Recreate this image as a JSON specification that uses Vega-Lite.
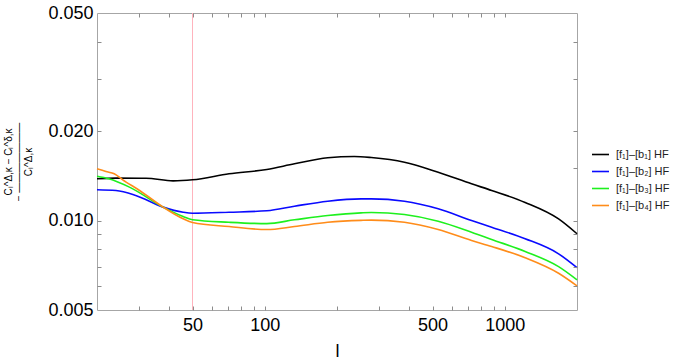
{
  "$schema": "https://vega.github.io/schema/vega-lite/v6.json",
  "width": 480,
  "height": 297,
  "autosize": {"type": "none"},
  "padding": {"left": 97, "top": 13, "right": 97, "bottom": 54},
  "background": "white",
  "config": {
    "view": {"stroke": "#a6a6a6", "strokeWidth": 1},
    "font": "Liberation Sans",
    "axis": {"grid": false, "labelFont": "Liberation Sans", "titleFont": "Liberation Sans", "labelColor": "#000", "titleColor": "#000", "tickColor": "#8c8c8c", "tickWidth": 1, "domain": false}
  },
  "datasets": {
    "curves": [
      {"l": 20, "r": 0.01383, "s": "[f₁]–[b₁] HF"},
      {"l": 24, "r": 0.01390, "s": "[f₁]–[b₁] HF"},
      {"l": 32, "r": 0.01389, "s": "[f₁]–[b₁] HF"},
      {"l": 41.5, "r": 0.01361, "s": "[f₁]–[b₁] HF"},
      {"l": 50, "r": 0.01372, "s": "[f₁]–[b₁] HF"},
      {"l": 71, "r": 0.01437, "s": "[f₁]–[b₁] HF"},
      {"l": 102, "r": 0.01486, "s": "[f₁]–[b₁] HF"},
      {"l": 133, "r": 0.01553, "s": "[f₁]–[b₁] HF"},
      {"l": 183, "r": 0.01627, "s": "[f₁]–[b₁] HF"},
      {"l": 236, "r": 0.01644, "s": "[f₁]–[b₁] HF"},
      {"l": 278, "r": 0.01630, "s": "[f₁]–[b₁] HF"},
      {"l": 382, "r": 0.01572, "s": "[f₁]–[b₁] HF"},
      {"l": 528, "r": 0.01455, "s": "[f₁]–[b₁] HF"},
      {"l": 727, "r": 0.01330, "s": "[f₁]–[b₁] HF"},
      {"l": 882, "r": 0.01263, "s": "[f₁]–[b₁] HF"},
      {"l": 1216, "r": 0.01151, "s": "[f₁]–[b₁] HF"},
      {"l": 1676, "r": 0.01013, "s": "[f₁]–[b₁] HF"},
      {"l": 2000, "r": 0.00903, "s": "[f₁]–[b₁] HF"},

      {"l": 20, "r": 0.01270, "s": "[f₁]–[b₂] HF"},
      {"l": 24, "r": 0.01263, "s": "[f₁]–[b₂] HF"},
      {"l": 29, "r": 0.01215, "s": "[f₁]–[b₂] HF"},
      {"l": 37.7, "r": 0.01110, "s": "[f₁]–[b₂] HF"},
      {"l": 45.7, "r": 0.01067, "s": "[f₁]–[b₂] HF"},
      {"l": 50, "r": 0.01059, "s": "[f₁]–[b₂] HF"},
      {"l": 71, "r": 0.01067, "s": "[f₁]–[b₂] HF"},
      {"l": 102, "r": 0.01079, "s": "[f₁]–[b₂] HF"},
      {"l": 133, "r": 0.01118, "s": "[f₁]–[b₂] HF"},
      {"l": 183, "r": 0.01162, "s": "[f₁]–[b₂] HF"},
      {"l": 252, "r": 0.01183, "s": "[f₁]–[b₂] HF"},
      {"l": 278, "r": 0.01183, "s": "[f₁]–[b₂] HF"},
      {"l": 382, "r": 0.01162, "s": "[f₁]–[b₂] HF"},
      {"l": 528, "r": 0.01096, "s": "[f₁]–[b₂] HF"},
      {"l": 727, "r": 0.01001, "s": "[f₁]–[b₂] HF"},
      {"l": 882, "r": 0.00950, "s": "[f₁]–[b₂] HF"},
      {"l": 1216, "r": 0.00869, "s": "[f₁]–[b₂] HF"},
      {"l": 1676, "r": 0.00773, "s": "[f₁]–[b₂] HF"},
      {"l": 2000, "r": 0.00694, "s": "[f₁]–[b₂] HF"},

      {"l": 20, "r": 0.01410, "s": "[f₁]–[b₃] HF"},
      {"l": 22.4, "r": 0.01383, "s": "[f₁]–[b₃] HF"},
      {"l": 27.3, "r": 0.01296, "s": "[f₁]–[b₃] HF"},
      {"l": 37.7, "r": 0.01110, "s": "[f₁]–[b₃] HF"},
      {"l": 45.7, "r": 0.01032, "s": "[f₁]–[b₃] HF"},
      {"l": 50, "r": 0.01006, "s": "[f₁]–[b₃] HF"},
      {"l": 71, "r": 0.00987, "s": "[f₁]–[b₃] HF"},
      {"l": 102, "r": 0.00977, "s": "[f₁]–[b₃] HF"},
      {"l": 133, "r": 0.01006, "s": "[f₁]–[b₃] HF"},
      {"l": 183, "r": 0.01040, "s": "[f₁]–[b₃] HF"},
      {"l": 252, "r": 0.01062, "s": "[f₁]–[b₃] HF"},
      {"l": 278, "r": 0.01065, "s": "[f₁]–[b₃] HF"},
      {"l": 382, "r": 0.01048, "s": "[f₁]–[b₃] HF"},
      {"l": 528, "r": 0.00995, "s": "[f₁]–[b₃] HF"},
      {"l": 727, "r": 0.00914, "s": "[f₁]–[b₃] HF"},
      {"l": 882, "r": 0.00864, "s": "[f₁]–[b₃] HF"},
      {"l": 1216, "r": 0.00787, "s": "[f₁]–[b₃] HF"},
      {"l": 1676, "r": 0.00700, "s": "[f₁]–[b₃] HF"},
      {"l": 2000, "r": 0.00632, "s": "[f₁]–[b₃] HF"},

      {"l": 20, "r": 0.01494, "s": "[f₁]–[b₄] HF"},
      {"l": 21.8, "r": 0.01463, "s": "[f₁]–[b₄] HF"},
      {"l": 23.6, "r": 0.01437, "s": "[f₁]–[b₄] HF"},
      {"l": 25.6, "r": 0.01372, "s": "[f₁]–[b₄] HF"},
      {"l": 30.1, "r": 0.01263, "s": "[f₁]–[b₄] HF"},
      {"l": 37.7, "r": 0.01110, "s": "[f₁]–[b₄] HF"},
      {"l": 45.7, "r": 0.01014, "s": "[f₁]–[b₄] HF"},
      {"l": 50, "r": 0.00985, "s": "[f₁]–[b₄] HF"},
      {"l": 71, "r": 0.00955, "s": "[f₁]–[b₄] HF"},
      {"l": 102, "r": 0.00933, "s": "[f₁]–[b₄] HF"},
      {"l": 133, "r": 0.00955, "s": "[f₁]–[b₄] HF"},
      {"l": 183, "r": 0.00987, "s": "[f₁]–[b₄] HF"},
      {"l": 252, "r": 0.01002, "s": "[f₁]–[b₄] HF"},
      {"l": 278, "r": 0.01004, "s": "[f₁]–[b₄] HF"},
      {"l": 382, "r": 0.00987, "s": "[f₁]–[b₄] HF"},
      {"l": 528, "r": 0.00933, "s": "[f₁]–[b₄] HF"},
      {"l": 727, "r": 0.00857, "s": "[f₁]–[b₄] HF"},
      {"l": 882, "r": 0.00818, "s": "[f₁]–[b₄] HF"},
      {"l": 1216, "r": 0.00750, "s": "[f₁]–[b₄] HF"},
      {"l": 1676, "r": 0.00665, "s": "[f₁]–[b₄] HF"},
      {"l": 2000, "r": 0.00603, "s": "[f₁]–[b₄] HF"}
    ],
    "marker": [{"l": 50, "lo": 0.005, "hi": 0.05}]
  },
  "resolve": {"axis": {"x": "independent", "y": "independent"}},
  "layer": [
    {
      "data": {"name": "marker"},
      "mark": {"type": "rule", "color": "#ffb3bd", "strokeWidth": 1},
      "encoding": {
        "x": {"field": "l", "type": "quantitative", "scale": {"type": "log", "domain": [20, 2000], "nice": false},
          "axis": {"orient": "bottom", "values": [30,40,50,60,70,80,90,100,200,300,400,500,600,700,800,900,1000],
            "ticks": true, "labels": false, "title": null, "tickSize": -4, "zindex": 1}},
        "y": {"field": "lo", "type": "quantitative", "scale": {"type": "log", "domain": [0.005, 0.05], "nice": false},
          "axis": {"orient": "left", "values": [0.006,0.007,0.008,0.009,0.01,0.02,0.03,0.04],
            "ticks": true, "labels": false, "title": null, "tickSize": -4, "zindex": 1}},
        "y2": {"field": "hi"}
      }
    },
    {
      "data": {"name": "curves"},
      "transform": [{"filter": "datum.s == '[f₁]–[b₁] HF' || datum.s == '[f₁]–[b₂] HF'"}],
      "mark": {"type": "line", "interpolate": "monotone", "strokeWidth": 1.6},
      "encoding": {
        "x": {"field": "l", "type": "quantitative", "scale": {"type": "log", "domain": [20, 2000], "nice": false},
          "axis": {"orient": "bottom", "values": [50,100,500,1000], "format": "d", "ticks": false, "labelFontSize": 18, "labelPadding": 6,
            "title": "l", "titleFontSize": 18, "titleFontWeight": "normal", "titlePadding": 8}},
        "y": {"field": "r", "type": "quantitative", "scale": {"type": "log", "domain": [0.005, 0.05], "nice": false},
          "axis": {"orient": "left", "values": [0.005, 0.01, 0.02, 0.05], "format": ".3f", "ticks": false, "labelFontSize": 18, "labelPadding": 4,
            "title": ["Cₗ^Δ,κ − Cₗ^δ,κ", "− ―――――――", "Cₗ^Δ,κ"], "titleFontSize": 10, "titleFontWeight": "normal", "titleLineHeight": 10, "titlePadding": 14}},
        "color": {"field": "s", "type": "nominal",
          "scale": {"domain": ["[f₁]–[b₁] HF", "[f₁]–[b₂] HF", "[f₁]–[b₃] HF", "[f₁]–[b₄] HF"], "range": ["#000000", "#0a0aff", "#1ef01e", "#ff8c1a"]},
          "legend": {"title": null, "orient": "none", "legendX": 494, "legendY": 132, "symbolType": "stroke", "symbolSize": 289, "symbolStrokeWidth": 1.6,
            "labelFontSize": 11, "labelColor": "#222", "labelFont": "Liberation Sans", "rowPadding": 2, "labelOffset": 6}}
      }
    },
    {
      "data": {"name": "curves"},
      "transform": [{"filter": "datum.s == '[f₁]–[b₃] HF' || datum.s == '[f₁]–[b₄] HF'"}],
      "mark": {"type": "line", "interpolate": "monotone", "strokeWidth": 1.6},
      "encoding": {
        "x": {"field": "l", "type": "quantitative", "scale": {"type": "log", "domain": [20, 2000], "nice": false},
          "axis": {"orient": "top", "values": [30,40,50,60,70,80,90,100,200,300,400,500,600,700,800,900,1000],
            "ticks": true, "labels": false, "title": null, "tickSize": -4, "zindex": 1}},
        "y": {"field": "r", "type": "quantitative", "scale": {"type": "log", "domain": [0.005, 0.05], "nice": false},
          "axis": {"orient": "right", "values": [0.006,0.007,0.008,0.009,0.01,0.015,0.02,0.03,0.04],
            "ticks": true, "labels": false, "title": null, "tickSize": -4, "zindex": 1}},
        "color": {"field": "s", "type": "nominal"}
      }
    }
  ]
}
